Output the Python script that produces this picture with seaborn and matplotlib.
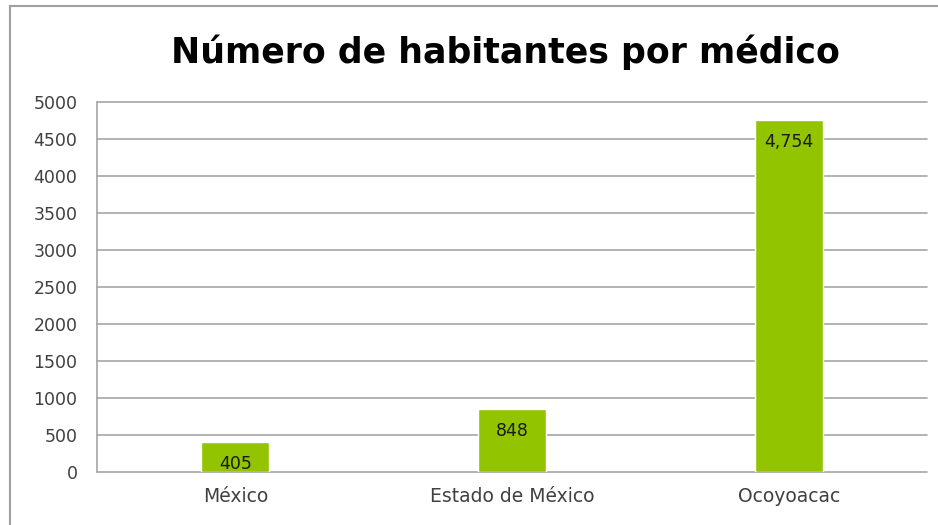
"""
Número de habitantes por médico — bar chart recreation.
"""

import matplotlib
matplotlib.use("Agg")
import matplotlib.pyplot as plt
import seaborn as sns
import pandas as pd
from matplotlib.patches import Rectangle

# ---------------------------------------------------------------------------
# Data
# ---------------------------------------------------------------------------
lugares = ["México", "Estado de México", "Ocoyoacac"]
habitantes = [405, 848, 4754]
etiquetas = ["405", "848", "4,754"]
y_ticks = [0, 500, 1000, 1500, 2000, 2500, 3000, 3500, 4000, 4500, 5000]

TITULO = "Número de habitantes por médico"
BAR_COLOR = "#92c400"
GRID_COLOR = "#a6a6a6"

df = pd.DataFrame({"lugar": lugares, "habitantes": habitantes})

# ---------------------------------------------------------------------------
# Plot
# ---------------------------------------------------------------------------
sns.set_theme(style="white")
plt.rcParams["font.family"] = ["DejaVu Sans"]

fig = plt.figure(figsize=(9.38, 5.25), dpi=100)
ax = fig.add_axes([97 / 938, 1 - 472 / 525, (927 - 97) / 938, (472 - 102) / 525])

sns.barplot(data=df, x="lugar", y="habitantes", color=BAR_COLOR,
            width=0.245, saturation=1, ax=ax, zorder=3)

ax.set_ylim(0, 5000)
ax.set_xlim(-0.5, 2.5)
ax.set_yticks(y_ticks)
ax.set_yticklabels([str(t) for t in y_ticks])
ax.set_axisbelow(True)
ax.set_xlabel("")
ax.set_ylabel("")
ax.tick_params(axis="y", length=0, labelsize=12.5, colors="#404040", pad=14)
ax.tick_params(axis="x", length=0, labelsize=13.5, colors="#404040", pad=11)

# horizontal gridlines (unclipped so the 0 and 5000 lines show full width)
for t in y_ticks:
    ax.axhline(t, color=GRID_COLOR, linewidth=1.2, zorder=0, clip_on=False)

for side in ["top", "right", "bottom"]:
    ax.spines[side].set_visible(False)
ax.spines["left"].set_color(GRID_COLOR)
ax.spines["left"].set_linewidth(1.2)

# data labels, inside end
for bar, txt in zip(ax.patches, etiquetas):
    ax.annotate(txt, (bar.get_x() + bar.get_width() / 2, bar.get_height()),
                xytext=(0, -22), textcoords="offset pixels",
                ha="center", va="center", fontsize=12.5, color="#1a1a1a", zorder=5)

fig.text(505 / 938, 1 - 52 / 525, TITULO, ha="center", va="center",
         fontsize=25, fontweight="bold", color="black")

# outer chart frame
fig.patches.append(Rectangle((10 / 938, -0.05), 1.1, 1 - 6 / 525 + 0.05,
                             transform=fig.transFigure, fill=False,
                             edgecolor="#a0a0a0", linewidth=1.5))

fig.savefig("out.png", dpi=100, facecolor="white")
